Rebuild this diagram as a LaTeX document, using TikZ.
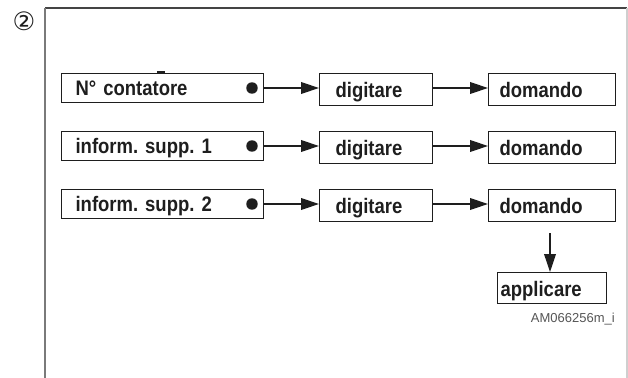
\documentclass[tikz,border=0pt]{standalone}
\usepackage{fontspec}
\setmainfont{Liberation Sans}[FakeStretch=0.88]
\newfontfamily\labfont{Liberation Sans}
\newfontfamily\symfont{DejaVu Sans}
\usetikzlibrary{arrows.meta}
\frenchspacing
\definecolor{ink}{HTML}{1E1E1E}
\definecolor{frametop}{HTML}{444444}
\definecolor{frameleft}{HTML}{7A7A7A}
\definecolor{frameright}{HTML}{CFCFCF}
\definecolor{labgray}{HTML}{555555}
\tikzset{
  box/.style={draw=ink, line width=0.9pt, anchor=north west, inner ysep=0pt, align=left,
    text=ink, font=\bfseries\fontsize{15.75pt}{18pt}\selectfont},
  lbox/.style={box, inner xsep=10.5pt, text width=130.5pt, text height=16.5pt, text depth=5.25pt},
  mbox/.style={box, inner xsep=12pt, text width=60.75pt, text height=18pt, text depth=6pt},
  rbox/.style={box, inner xsep=8.25pt, text width=78.75pt, text height=18pt, text depth=6pt},
  abox/.style={box, inner xsep=2.25pt, text width=77.25pt, text height=18pt, text depth=5.25pt},
  dotnode/.style={circle, fill=ink, inner sep=0pt, minimum size=8.6pt},
  conn/.style={draw=ink, line width=0.8pt, -{Triangle[length=13.5pt, width=8.8pt]}},
}
\begin{document}
\begin{tikzpicture}[x=0.75pt, y=-0.75pt]
\useasboundingbox (0,0) rectangle (628,378);
% frame
\draw[frametop, line width=1.1pt] (45,8) -- (627,8);
\draw[frameleft, line width=1.5pt] (45,8) -- (45,378);
\draw[frameright, line width=0.8pt] (627,8) -- (627,378);
% circled number
\node[font=\symfont\fontsize{19pt}{22pt}\selectfont, text=ink] (num) at (24,21) {②};
% row 1
\node[lbox] (l1) at (61,73) {N° contatore};
\fill[ink] (157,71.5) rectangle (165,73.5);
\node[dotnode] (d1) at (252,88) {};
\node[mbox] (m1) at (319,73) {digitare};
\node[rbox] (r1) at (488,73) {domando};
% row 2
\node[lbox] (l2) at (61,131) {inform. supp. 1};
\node[dotnode] (d2) at (252,146) {};
\node[mbox] (m2) at (319,131) {digitare};
\node[rbox] (r2) at (488,131) {domando};
% row 3
\node[lbox] (l3) at (61,189) {inform. supp. 2};
\node[dotnode] (d3) at (252,204) {};
\node[mbox] (m3) at (319,189) {digitare};
\node[rbox] (r3) at (488,189) {domando};
% applicare
\node[abox] (ap) at (497,272) {applicare};
\coordinate (c3) at (550,233);
% connectors
\draw[conn] (l1.east |- d1) -- (d1 -| m1.west);
\draw[conn] (m1.east |- d1) -- (d1 -| r1.west);
\draw[conn] (l2.east |- d2) -- (d2 -| m2.west);
\draw[conn] (m2.east |- d2) -- (d2 -| r2.west);
\draw[conn] (l3.east |- d3) -- (d3 -| m3.west);
\draw[conn] (m3.east |- d3) -- (d3 -| r3.west);
\draw[conn] (c3) -- (c3 |- ap.north);
% label
\node[anchor=base east, inner sep=0pt, font=\labfont\fontsize{9.75pt}{11pt}\selectfont, text=labgray] (lab) at (615,322) {AM066256m\_i};
\end{tikzpicture}
\end{document}
